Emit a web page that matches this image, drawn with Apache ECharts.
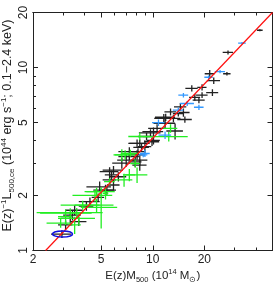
<!DOCTYPE html>
<html><head><meta charset="utf-8">
<script src="https://cdn.jsdelivr.net/npm/echarts@6/dist/echarts.min.js"></script>
<style>html,body{margin:0;padding:0;background:#fff}#c{width:274px;height:283px}</style>
</head><body><div id="c"></div>
<script>
const xMin=2, xMax=50, yMin=1, yMax=20;
const xTickLabels=[2,5,10,20];
const xMinorTicks=[3,4,6,7,8,9,30,40];
const xMajorTicks=[2,5,10,20];
const yTickLabels=[1,2,5,10,20];
const yMinorTicks=[3,4,6,7,8,9];
const yMajorTicks=[1,2,5,10,20];
// [M, L, dM, dL]
const blackPts=[
[42.2,16.0,1.6,0.2],[27.5,12.1,1.9,0.3],[21.5,9.25,1.4,0.45],[27.1,9.25,1.35,0.2],
[22.7,8.48,2.0,0.35],[16.9,7.7,1.4,0.3],[19.4,7.8,1.2,0.3],[22.3,7.3,1.8,0.3],
[19.4,7.07,1.5,0.25],[17.6,6.88,1.3,0.3],[18.6,6.63,1.5,0.25],[14.5,6.1,1.2,0.3],
[15.1,5.68,1.3,0.3],[11.9,5.35,1.6,0.25],[13.2,5.28,1.3,0.25],[15.4,5.2,1.5,0.2],
[12.7,5.72,1.0,0.25],[11.6,5.28,1.4,0.3],[11.8,4.96,1.7,0.3],[13.5,4.5,1.5,0.45],
[10.1,4.46,1.4,0.25],[9.9,3.93,1.0,0.2],[9.7,4.4,1.4,0.2],[9.2,4.2,1.0,0.2],
[10.1,4.0,0.9,0.2],[8.4,3.85,1.2,0.2],[7.3,3.47,1.0,0.2],[8.1,3.33,0.9,0.2],
[7.0,3.12,0.8,0.25],[8.4,3.12,0.9,0.2],[7.9,3.05,0.7,0.2],[6.6,3.0,0.8,0.2],
[8.4,2.93,0.8,0.2],[5.6,2.7,0.7,0.15],[6.3,2.53,0.7,0.15],[5.6,2.43,0.5,0.15],
[5.9,2.28,0.5,0.15],[5.3,2.14,0.8,0.15],[4.8,1.95,0.4,0.1],[4.3,1.85,0.6,0.1],
[3.5,1.66,0.4,0.1],[3.4,1.56,0.4,0.1],[3.7,1.44,0.4,0.08],[3.1,1.38,0.3,0.08],
[2.95,1.23,0.4,0.06],[8.1,3.85,0.8,0.2],[8.6,3.66,0.9,0.2],[8.2,3.47,0.7,0.15],
[7.3,3.26,1.0,0.15],[5.9,2.75,0.8,0.15],[5.75,2.59,0.5,0.15],[4.9,2.23,0.8,0.15],
[5.4,2.14,0.5,0.12],[14.1,5.6,1.0,0.2],[10.6,4.65,1.2,0.25],[9.0,3.7,0.8,0.3],
[4.1,1.75,0.4,0.1],[3.3,1.5,0.4,0.1]
];
const bluePts=[
[33.2,13.6,1.7,0.2],[24.7,9.5,1.7,0.2],[21.2,8.85,1.2,0.2],[15.1,7.07,1.0,0.2],
[15.9,6.36,1.5,0.2],[18.6,6.07,1.2,0.2],[14.1,5.85,1.0,0.2],[10.8,5.0,0.9,0.2],
[11.8,4.27,1.0,0.2],[9.0,3.39,0.6,0.15],[8.8,3.33,0.5,0.1]
];
const greenPts=[
[12.7,4.65,1.2,0.25],[12.4,4.19,3.6,0.25],[8.4,4.2,1.2,0.2],[6.9,3.33,1.0,0.2],
[8.1,2.59,1.2,0.25],[6.8,2.43,0.8,0.2],[4.6,2.0,1.2,0.15],[3.9,1.77,1.0,0.1],
[5.0,1.72,1.2,0.4],[3.3,1.6,1.1,0.1],[3.1,1.53,0.3,0.15],[3.7,1.5,0.9,0.1],
[3.5,1.38,0.3,0.15],[2.9,1.41,0.5,0.08],[6.6,3.33,0.6,0.25],[7.3,2.59,0.6,0.2],
[5.6,2.38,0.4,0.1],[4.7,2.1,0.6,0.1],[5.3,2.05,0.2,0.15],[7.4,3.4,0.9,0.15],
[3.6,1.61,1.5,0.1],[4.7,1.77,1.2,0.15],[5.0,2.1,1.0,0.12],[7.9,2.99,0.5,0.15]
];
const fitM=[2.37,50];
const fitL=[1,20];
// [M, L, Mlo, Mhi, Llo, Lhi]
const ellipsePts=[[2.95,1.23,2.6,3.4,1.185,1.28]];

const FONT='Liberation Sans';
function errItem(color){return function(params,api){
  const m=api.value(0),l=api.value(1),dm=api.value(2),dl=api.value(3);
  const c=api.coord([m,l]);
  const x0=api.coord([m-dm,l])[0],x1=api.coord([m+dm,l])[0];
  const y0=api.coord([m,l-dl])[1],y1=api.coord([m,l+dl])[1];
  return {type:'group',children:[
    {type:'line',shape:{x1:x0,y1:c[1],x2:x1,y2:c[1]},style:{stroke:color,lineWidth:1.3}},
    {type:'line',shape:{x1:c[0],y1:y0,x2:c[0],y2:y1},style:{stroke:color,lineWidth:1.3}}
  ]};
};}
function ellItem(params,api){
  const xa=api.coord([api.value(2),api.value(1)])[0],xb=api.coord([api.value(3),api.value(1)])[0];
  const ya=api.coord([api.value(0),api.value(4)])[1],yb=api.coord([api.value(0),api.value(5)])[1];
  return {type:'ellipse',shape:{cx:(xa+xb)/2,cy:(ya+yb)/2,rx:Math.abs(xb-xa)/2,ry:Math.abs(yb-ya)/2},
    style:{stroke:'#1010e0',fill:null,lineWidth:1.5}};
}
// rotated y tick labels, placed through the y axis scale
function yLabelItem(params,api){
  const c=api.coord([api.value(0),api.value(1)]);
  return {type:'text',x:c[0]-9.5,y:c[1],rotation:Math.PI/2,silent:true,
    style:{text:String(Math.round(api.value(1))),fontFamily:FONT,fontSize:12,fill:'#222',align:'center',verticalAlign:'middle'}};
}
const gridRect={left:33,top:12.5,right:1.5,bottom:32.5,outerBoundsMode:'none'};
function mkRich(fs,ss){return {
  a:{fontFamily:FONT,fontSize:fs,color:'#222',lineHeight:16,verticalAlign:'middle'},
  sup:{fontFamily:FONT,fontSize:ss,color:'#222',lineHeight:7,verticalAlign:'top'},
  sub:{fontFamily:FONT,fontSize:ss,color:'#222',lineHeight:7,verticalAlign:'bottom'}
};}
function xAx(grid,pos,ticks,len,labels,name){
  const a={type:'log',gridIndex:grid,position:pos,min:xMin,max:xMax,logBase:10,
    axisLine:{show:true,lineStyle:{color:'#222',width:1}},
    axisTick:{show:true,inside:true,length:len,customValues:ticks,lineStyle:{color:'#222',width:1}},
    axisLabel:labels?{show:true,customValues:labels,margin:3,fontFamily:FONT,fontSize:12,color:'#222',formatter:v=>String(Math.round(v))}:{show:false},
    splitLine:{show:false},minorTick:{show:false}};
  if(name) Object.assign(a,{name:name,nameLocation:'middle',nameGap:17,nameMoveOverlap:false,nameTextStyle:{rich:mkRich(11.5,7.5)}});
  return a;
}
function yAx(grid,pos,ticks,len,name){
  const a={type:'log',gridIndex:grid,position:pos,min:yMin,max:yMax,logBase:10,
    axisLine:{show:true,lineStyle:{color:'#222',width:1}},
    axisTick:{show:true,inside:true,length:len,customValues:ticks,lineStyle:{color:'#222',width:1}},
    axisLabel:{show:false},
    splitLine:{show:false},minorTick:{show:false}};
  if(name) Object.assign(a,{name:name,nameLocation:'middle',nameGap:17,nameRotate:90,nameMoveOverlap:false,nameTextStyle:{rich:mkRich(12.5,8),padding:[0,0,0,12]}});
  return a;
}
const xName='{a|E(z)M}{sub|500}{a| (10}{sup|14}{a| M}{sub|⊙}{a|)}';
const yName='{a|E(z)}{sup|−1}{a|L}{sub|500,ce}{a| (10}{sup|44}{a| erg s}{sup|−1}{a|; 0.1−2.4 keV)}';
const option={
  animation:false,backgroundColor:'#fff',
  grid:[Object.assign({},gridRect),Object.assign({},gridRect)],
  xAxis:[xAx(0,'bottom',xMinorTicks,3,xTickLabels,xName),xAx(0,'top',xMinorTicks,3,null),
         xAx(1,'bottom',xMajorTicks,5,null),xAx(1,'top',xMajorTicks,5,null)],
  yAxis:[yAx(0,'left',yMinorTicks,3,yName),yAx(0,'right',yMinorTicks,3),
         yAx(1,'left',yMajorTicks,5),yAx(1,'right',yMajorTicks,5)],
  series:[
    {type:'custom',xAxisIndex:0,yAxisIndex:0,renderItem:errItem('#222'),data:blackPts,encode:{x:0,y:1},clip:true,z:2},
    {type:'custom',xAxisIndex:0,yAxisIndex:0,renderItem:errItem('#22ee22'),data:greenPts,encode:{x:0,y:1},clip:true,z:3},
    {type:'custom',xAxisIndex:0,yAxisIndex:0,renderItem:errItem('#3399ff'),data:bluePts,encode:{x:0,y:1},clip:true,z:4},
    {type:'line',xAxisIndex:0,yAxisIndex:0,data:fitM.map((m,i)=>[m,fitL[i]]),symbol:'none',lineStyle:{color:'#ff1010',width:1.2},z:5},
    {type:'custom',xAxisIndex:0,yAxisIndex:0,renderItem:ellItem,data:ellipsePts,encode:{x:0,y:1},z:6},
    {type:'custom',xAxisIndex:0,yAxisIndex:0,renderItem:yLabelItem,data:yTickLabels.map(v=>[xMin,v]),encode:{x:0,y:1},clip:false,silent:true,z:7}
  ]
};
echarts.init(document.getElementById('c'),null,{renderer:'canvas'}).setOption(option);
</script></body></html>
